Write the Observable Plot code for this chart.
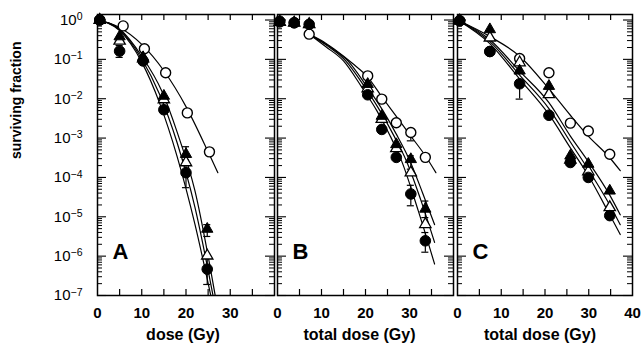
<!DOCTYPE html>
<html>
<head>
<meta charset="utf-8">
<script src="https://cdn.jsdelivr.net/npm/d3@7"></script>
<script src="https://cdn.jsdelivr.net/npm/@observablehq/plot@0.6"></script>
<style>
  body { margin: 0; background: #fff; }
  #fig { position: relative; width: 641px; height: 346px; overflow: hidden; background: #fff; }
  #fig svg { position: absolute; top: 0; }
</style>
</head>
<body>
<div id="fig"></div>
<script>
// Surviving fraction data, stored as log10(SF). Four series per panel:
// open circles, filled triangles, open triangles, filled circles.

// ---- Panel A: single dose ----
const doseA = [0.5, 5, 10.3, 15, 20, 24.8];
const doseOpenCircleA = [0.5, 5.8, 10.6, 15.4, 20.3, 25.3];
const openCircleA     = [0, -0.15, -0.73, -1.34, -2.36, -3.35];
const filledTriangleA = [0, -0.42, -0.95, -1.93, -3.41, -5.31];
const openTriangleA   = [0, -0.53, -0.98, -2.02, -3.62, -5.99];
const filledCircleA   = [0, -0.79, -1.04, -2.28, -3.88, -6.33];

// fitted survival curves, panel A
const fitOpenCircleA     = { dose: [0, 5, 10, 15, 20, 25, 27.2], log: [0, -0.19, -0.62, -1.29, -2.2, -3.35, -3.88] };
const fitFilledTriangleA = { dose: [0, 5, 10, 14.5, 18, 22, 26.6], log: [0, -0.23, -0.92, -1.8, -2.85, -4.33, -7.0] };
const fitOpenTriangleA   = { dose: [0, 5, 10, 14, 18, 22, 26.1], log: [0, -0.25, -0.99, -1.88, -3.12, -4.75, -7.0] };
const fitFilledCircleA   = { dose: [0, 5, 10, 14, 18, 22, 25.6], log: [0, -0.27, -1.07, -2.1, -3.47, -5.18, -7.0] };

// error bars, panel A
const errDoseA = [5, 20, 20, 24.8, 24.8];
const errLoA   = [-0.95, -4.26, -3.55, -5.5, -6.72];
const errHiA   = [-0.65, -3.6, -3.22, -5.2, -6.0];

// ---- Panel B: fractionated, total dose ----
const doseB = [0.5, 3.8, 7.2, 20.5, 23.7, 27.0, 30.3, 33.6];
const openCircleB     = [-0.05, -0.07, -0.36, -1.42, -2.01, -2.61, -2.86, -3.49];
const filledTriangleB = [-0.05, -0.07, -0.11, -1.63, -2.44, -3.16, -3.54, -4.80];
const openTriangleB   = [-0.05, -0.07, -0.11, -1.74, -2.52, -3.26, -3.88, -5.19];
const filledCircleB   = [-0.03, -0.07, -0.11, -1.90, -2.78, -3.49, -4.42, -5.61];

const fitOpenCircleB     = { dose: [7.2, 10, 13, 17, 20.5, 23.7, 27, 30.3, 33.6, 36], log: [-0.36, -0.52, -0.75, -1.1, -1.45, -1.95, -2.45, -2.95, -3.45, -3.88] };
const fitFilledTriangleB = { dose: [7.2, 11.5, 16, 20, 24, 27, 30.1, 33, 35.7], log: [-0.36, -0.65, -1.04, -1.64, -2.31, -2.9, -3.58, -4.4, -5.2] };
const fitOpenTriangleB   = { dose: [7.2, 11.5, 15.5, 19.5, 23.3, 26.5, 29.3, 32.5, 35.7], log: [-0.36, -0.67, -1.04, -1.65, -2.31, -2.95, -3.58, -4.55, -5.65] };
const fitFilledCircleB   = { dose: [7.2, 11, 15, 19, 22.6, 25.5, 28.2, 32, 35.7], log: [-0.36, -0.68, -1.04, -1.68, -2.31, -2.92, -3.58, -4.85, -6.2] };

const errDoseB = [30.3, 33.6, 30.3, 33.6, 30.3];
const errLoB   = [-3.79, -5.02, -4.72, -5.9, -3.07];
const errHiB   = [-3.45, -4.6, -4.2, -5.4, -2.86];

// ---- Panel C: fractionated, total dose ----
const doseC = [0.5, 7.4, 14.2, 20.9, 25.8, 29.9, 34.8];
const openCircleC     = [-0.02, -0.8, -0.98, -1.34, -2.62, -2.82, -3.41];
const filledTriangleC = [-0.02, -0.24, -1.29, -1.68, -3.45, -3.66, -4.34];
const openTriangleC   = [-0.02, -0.45, -1.08, -1.89, -3.55, -3.85, -4.76];
const filledCircleC   = [-0.02, -0.8, -1.62, -2.42, -3.62, -4.0, -4.97];

const fitOpenCircleC     = { dose: [0, 7.4, 14.2, 20.9, 25.8, 29.9, 34.8, 37.2], log: [0, -0.42, -0.92, -1.75, -2.42, -2.95, -3.5, -3.83] };
const fitFilledTriangleC = { dose: [0, 7.4, 14.2, 20.9, 25.8, 29.9, 34.8, 37.2], log: [0, -0.5, -1.3, -2.1, -2.95, -3.6, -4.45, -4.95] };
const fitOpenTriangleC   = { dose: [0, 7.4, 14.2, 20.9, 25.8, 29.9, 34.8, 37.2], log: [0, -0.55, -1.4, -2.25, -3.1, -3.8, -4.7, -5.2] };
const fitFilledCircleC   = { dose: [0, 7.4, 14.2, 20.9, 25.8, 29.9, 34.8, 37.2], log: [0, -0.6, -1.5, -2.4, -3.25, -3.95, -4.95, -5.45] };

const errDoseC = [14.2];
const errLoC   = [-2.01];
const errHiC   = [-1.6];

// ---- axes ----
const yExponents = [0, -1, -2, -3, -4, -5, -6, -7];
const xTickLabelsAB = [0, 10, 20, 30];
const xTickLabelsC = [0, 10, 20, 30, 40];
const xTickMarks = [5, 10, 15, 20, 25, 30, 35];
const yTitle = "surviving fraction";

const FONT = '"Liberation Sans", Arial, Helvetica, sans-serif';

const rows = (dose, log) => dose.map((d, i) => ({dose: d, sf: 10 ** log[i]}));
const errRows = (dose, lo, hi) => dose.map((d, i) => ({dose: d, lo: 10 ** lo[i], hi: 10 ** hi[i]}));

const panels = [
  {letter: "A", title: "dose (Gy)", titleDx: -3, left: 0, width: 276, ml: 97, mr: 2, labels: xTickLabelsAB, yAxis: true,
   oc: rows(doseOpenCircleA, openCircleA), ft: rows(doseA, filledTriangleA), ot: rows(doseA, openTriangleA), fc: rows(doseA, filledCircleA),
   fits: [fitOpenCircleA, fitFilledTriangleA, fitOpenTriangleA, fitFilledCircleA], err: errRows(errDoseA, errLoA, errHiA)},
  {letter: "B", title: "total dose (Gy)", titleDx: -6, left: 275, width: 180, ml: 2, mr: 2, labels: xTickLabelsAB, yAxis: false,
   oc: rows(doseB, openCircleB), ft: rows(doseB, filledTriangleB), ot: rows(doseB, openTriangleB), fc: rows(doseB, filledCircleB),
   fits: [fitOpenCircleB, fitFilledTriangleB, fitOpenTriangleB, fitFilledCircleB], err: errRows(errDoseB, errLoB, errHiB)},
  {letter: "C", title: "total dose (Gy)", titleDx: -5, left: 454, width: 187, ml: 3, mr: 9, labels: xTickLabelsC, yAxis: false,
   oc: rows(doseC, openCircleC), ft: rows(doseC, filledTriangleC), ot: rows(doseC, openTriangleC), fc: rows(doseC, filledCircleC),
   fits: [fitOpenCircleC, fitFilledTriangleC, fitOpenTriangleC, fitFilledCircleC], err: errRows(errDoseC, errLoC, errHiC)}
];

const yMajor = yExponents.map(e => 10 ** e);
const yMinor = d3.range(-7, 0).flatMap(e => d3.range(2, 10).map(k => k * 10 ** e));

const HEIGHT = 346, MT = 14, MB = 51;
const innerH = HEIGHT - MT - MB;
const fig = document.getElementById("fig");

for (const p of panels) {
  const W = p.width - p.ml - p.mr;
  const marks = [
    // inward ticks on all four sides
    Plot.tickY(yMajor, {y: d => d, insetRight: W - 9, strokeWidth: 1.1}),
    Plot.tickY(yMinor, {y: d => d, insetRight: W - 5, strokeWidth: 1}),
    Plot.tickY(yMajor, {y: d => d, insetLeft: W - 9, strokeWidth: 1.1}),
    Plot.tickY(yMinor, {y: d => d, insetLeft: W - 5, strokeWidth: 1}),
    Plot.tickX(xTickMarks, {x: d => d, insetTop: innerH - 6, strokeWidth: 1.2}),
    Plot.tickX(xTickMarks, {x: d => d, insetBottom: innerH - 6, strokeWidth: 1.2}),
    Plot.frame({stroke: "black", strokeWidth: 1.5}),
    // fitted curves
    ...p.fits.map(f => Plot.line(rows(f.dose, f.log), {x: "dose", y: "sf", curve: "monotone-x", stroke: "black", strokeWidth: 1.2, clip: true})),
    // error bars with caps
    Plot.ruleX(p.err, {x: "dose", y1: "lo", y2: "hi", strokeWidth: 1.2}),
    Plot.ruleY(p.err, {y: "lo", x1: d => d.dose - 0.8, x2: d => d.dose + 0.8, strokeWidth: 1.2}),
    Plot.ruleY(p.err, {y: "hi", x1: d => d.dose - 0.8, x2: d => d.dose + 0.8, strokeWidth: 1.2}),
    // data points
    Plot.dot(p.oc, {x: "dose", y: "sf", r: 5, symbol: "circle", fill: "white", stroke: "black", strokeWidth: 1.4}),
    Plot.dot(p.ot, {x: "dose", y: "sf", r: 4.2, symbol: "triangle", fill: "white", stroke: "black", strokeWidth: 1.3}),
    Plot.dot(p.ft, {x: "dose", y: "sf", r: 4.2, symbol: "triangle", fill: "black", stroke: "black", strokeWidth: 1}),
    Plot.dot(p.fc, {x: "dose", y: "sf", r: 5.3, symbol: "circle", fill: "black", stroke: "black", strokeWidth: 1}),
    // x tick labels and title
    Plot.axisX(p.labels, {tickSize: 0, tickPadding: 12, label: null, fontSize: 15, fontWeight: "bold"}),
    Plot.text([p.title], {text: d => d, frameAnchor: "bottom", dx: p.titleDx, dy: 44, fontSize: 16, fontWeight: "bold"}),
    // panel letter
    Plot.text([p.letter], {text: d => d, frameAnchor: "bottom-left", textAnchor: "start", dx: 15, dy: -37, fontSize: 22, fontWeight: "bold"})
  ];
  if (p.yAxis) {
    marks.push(
      Plot.axisY(yMajor, {tickSize: 0, tickPadding: 15, label: null, fontSize: 15,
        tickFormat: d => "10|" + Math.round(Math.log10(d))}),
      Plot.text([yTitle], {text: d => d, frameAnchor: "left", rotate: -90, dx: -81, dy: 4, fontSize: 14, fontWeight: "bold"})
    );
  }
  const svg = Plot.plot({
    width: p.width,
    height: HEIGHT,
    marginLeft: p.ml,
    marginRight: p.mr,
    marginTop: MT,
    marginBottom: MB,
    x: {domain: [0, 40], axis: null},
    y: {type: "log", domain: [1e-7, 1.38], axis: null},
    style: {fontFamily: FONT, fontSize: "15px", color: "black", background: "transparent", overflow: "visible"},
    marks
  });
  svg.style.left = p.left + "px";
  // y tick labels as 10 with a raised exponent
  svg.querySelectorAll('g[aria-label="y-axis tick label"] text').forEach(t => {
    const [base, exp] = t.textContent.split("|");
    t.textContent = base;
    const sup = document.createElementNS("http://www.w3.org/2000/svg", "tspan");
    sup.setAttribute("dy", "-0.45em");
    sup.setAttribute("font-size", "10.5px");
    sup.textContent = exp.replace("-", "\u2212");
    t.appendChild(sup);
  });
  fig.appendChild(svg);
}
</script>
</body>
</html>
